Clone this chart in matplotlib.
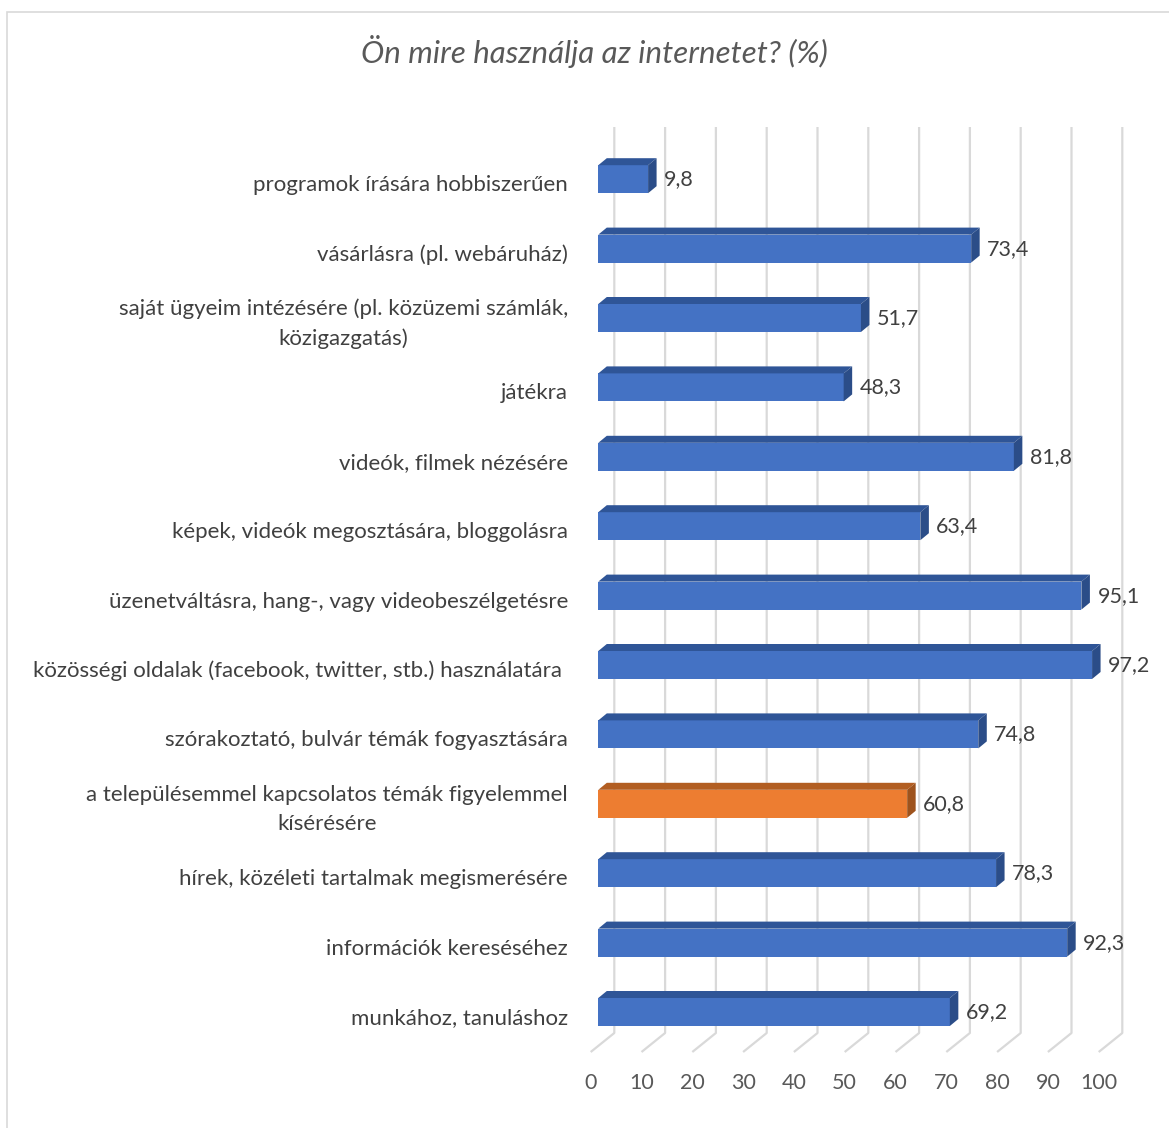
import matplotlib
matplotlib.use('Agg')
import matplotlib.pyplot as plt
from matplotlib.patches import Polygon, Rectangle

plt.rcParams['font.family'] = ['Lato', 'DejaVu Sans']

# data, top to bottom as in the chart
labels = [
    "programok írására hobbiszerűen",
    "vásárlásra (pl. webáruház)",
    "saját ügyeim intézésére (pl. közüzemi számlák,\nközigazgatás)",
    "játékra",
    "videók, filmek nézésére",
    "képek, videók megosztására, bloggolásra",
    "üzenetváltásra, hang-, vagy videobeszélgetésre",
    "közösségi oldalak (facebook, twitter, stb.) használatára ",
    "szórakoztató, bulvár témák fogyasztására",
    "a településemmel kapcsolatos témák figyelemmel\nkísérésére",
    "hírek, közéleti tartalmak megismerésére",
    "információk kereséséhez",
    "munkához, tanuláshoz",
]
values = [9.8, 73.4, 51.7, 48.3, 81.8, 63.4, 95.1, 97.2, 74.8, 60.8, 78.3, 92.3, 69.2]
highlight = "a településemmel kapcsolatos témák figyelemmel\nkísérésére"
ticks = [0, 10, 20, 30, 40, 50, 60, 70, 80, 90, 100]
title = "Ön mire használja az internetet? (%)"

W, H = 1169, 1128
fig = plt.figure(figsize=(W / 100, H / 100), dpi=100)

# layout in pixels
x0_px, px_per_unit = 598.3, 5.08        # value 0 of the bar front face
y_bottom_px, row_px = 1012.0, 69.4      # centre of lowest bar, row spacing
ax_top_px, ax_bot_px = 120.0, 1060.0
ax = fig.add_axes([x0_px / W, 1 - ax_bot_px / H,
                   100 * px_per_unit / W, (ax_bot_px - ax_top_px) / H])
ax.set_xlim(0, 100)
ax.set_ylim((y_bottom_px - ax_bot_px) / row_px, (y_bottom_px - ax_top_px) / row_px)
ax.axis('off')

ux = 1 / px_per_unit   # data units per pixel
uy = 1 / row_px

n = len(values)
ypos = [n - 1 - i for i in range(n)]

# 3d wall / floor gridlines
grid_c = '#D9D9D9'
back_dx = 16 * ux
wall_top = (y_bottom_px - 127) * uy
wall_bot = (y_bottom_px - 1033) * uy
floor_dx, floor_dy = -23.6 * ux, -19 * uy
for t in ticks:
    xb = t + back_dx
    ax.plot([xb, xb, xb + floor_dx], [wall_top, wall_bot, wall_bot + floor_dy],
            color=grid_c, lw=1.6, zorder=1, clip_on=False, solid_capstyle='butt')
    ax.text(xb + floor_dx, (y_bottom_px - 1083) * uy, str(t), ha='center', va='center',
            fontsize=15.5, color='#595959')

# bars with depth
h = 28 * uy
ddx, ddy = 8.5 * ux, 7 * uy
for lab, v, y in zip(labels, values, ypos):
    if lab == highlight:
        front, top, side = '#ED7D31', '#B25E22', '#9E531D'
    else:
        front, top, side = '#4472C4', '#2F5597', '#2B4D88'
    ax.barh(y, v, height=h, left=0, color=front, zorder=3)
    ax.add_patch(Polygon([(0, y + h / 2), (v, y + h / 2), (v + ddx, y + h / 2 + ddy),
                          (ddx, y + h / 2 + ddy)], closed=True, color=top, zorder=3, lw=0))
    ax.add_patch(Polygon([(v, y - h / 2), (v + ddx, y - h / 2 + ddy),
                          (v + ddx, y + h / 2 + ddy), (v, y + h / 2)], closed=True,
                         color=side, zorder=3, lw=0))
    ax.text(v + 16 * ux, y, f"{v:.1f}".replace('.', ','), ha='left', va='center',
            fontsize=15.5, color='#404040', zorder=4)
    ax.text(-30.3 * ux, y - 6 * uy, lab, ha='right', va='center', multialignment='center',
            fontsize=16, color='#404040', linespacing=1.55)

fig.text(594 / W, 1 - 52 / H, title, ha='center', va='center', fontsize=22.5,
         style='italic', color='#595959')

fig.add_artist(Rectangle((7 / W, -0.05), 1.2, 1.05 - 12 / H, transform=fig.transFigure,
                         fill=False, edgecolor='#D9D9D9', lw=1.2))

fig.savefig('out.png', dpi=100)
